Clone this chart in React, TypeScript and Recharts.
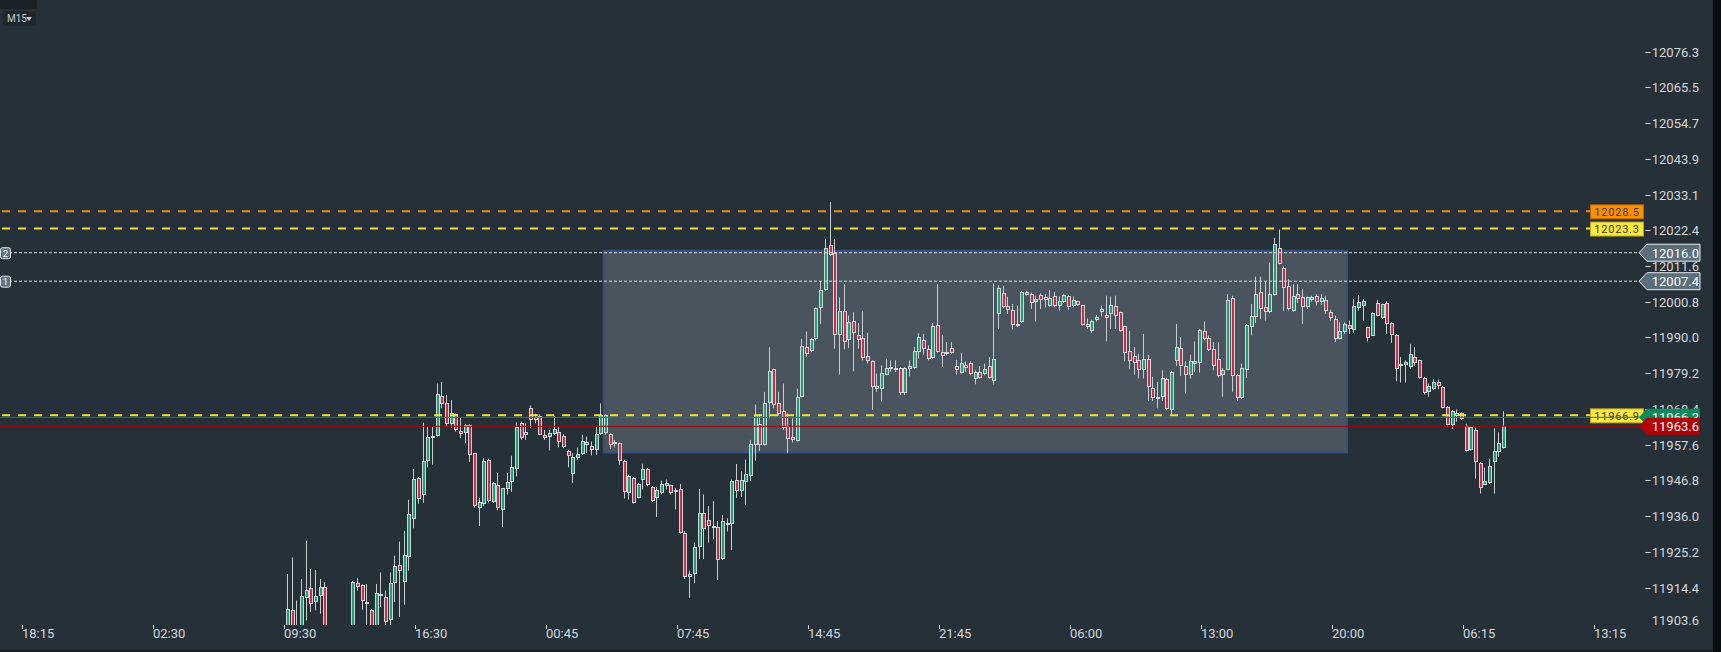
import React from 'react';
import { ComposedChart, Bar, XAxis, YAxis, ReferenceLine, ReferenceArea } from 'recharts';

// ---------- layout constants ----------
const WIDTH = 1721;
const HEIGHT = 652;
const SLOT_COUNT = 351;
const FIRST_SLOT = 61;

// ---------- axis data ----------
const tickSlots = [5, 33, 61, 89, 117, 145, 173, 201, 229, 257, 285, 313, 341];
const timeLabels = ['18:15', '02:30', '09:30', '16:30', '00:45', '07:45', '14:45', '21:45', '06:00', '13:00', '20:00', '06:15', '13:15'];
const priceTicks = [11903.6, 11914.4, 11925.2, 11936.0, 11946.8, 11957.6, 11968.4, 11979.2, 11990.0, 12000.8, 12011.6, 12022.4, 12033.1, 12043.9, 12054.7, 12065.5, 12076.3];
const priceDomain: [number, number] = [11903.6, 12092.3];

// ---------- levels ----------
const orangeLevel = 12028.5;
const yellowLevels = [12023.3, 11966.9];
const dottedLevels = [12016.0, 12007.4];
const dottedNames = ['2', '1'];
const askLevel = 11966.3;
const bidLevel = 11963.6;
const zoneSlots = [129, 287];
const zonePrices = [12016.7, 11955.6];

// ---------- candles [open, high, low, close] per M15 slot ----------
type C = [number, number, number, number] | null;
const s0930: C[] = [
  [11900, 11919, 11895, 11908.3], [11908, 11924, 11894, 11898], [11898, 11911, 11893, 11901], [11900, 11917.5, 11898, 11912.5],
  [11911.8, 11929, 11905, 11914.3], [11914.7, 11920.5, 11907.5, 11910], [11910.5, 11920.2, 11908, 11912.5], [11912.5, 11917.5, 11907, 11915],
  [11915.2, 11916.5, 11898, 11900], null, null, null, null, null,
  [11898, 11916.9, 11896, 11916.5], [11916.3, 11917.7, 11914, 11915.2], [11915.8, 11915.9, 11908.2, 11910.8], [11910.5, 11916, 11902, 11909.8],
  [11908, 11908.5, 11898, 11900], [11900, 11916, 11898, 11913.4], [11913.1, 11919.5, 11909, 11912.4], [11912.2, 11914, 11903, 11904.5],
  [11905, 11919.5, 11902, 11916.4], [11916.2, 11924.5, 11910.5, 11921.5], [11921.8, 11928.8, 11906, 11920], [11916.5, 11932, 11909.7, 11924.7],
  [11924, 11941.4, 11920, 11937], [11935.5, 11950.7, 11932.8, 11947.7],
];
const s1630: C[] = [
  [11948, 11948.3, 11940.2, 11941.5], [11943, 11964.7, 11940.5, 11953], [11953, 11963.5, 11951.2, 11960.5], [11960.8, 11963.5, 11952, 11960.1],
  [11960.7, 11976.5, 11960.5, 11973.2], [11972.8, 11977, 11969, 11970.2], [11970.7, 11973, 11963.5, 11964.2], [11964.2, 11971.5, 11963.2, 11967.5],
  [11967.4, 11967.4, 11962, 11962.5], [11962.3, 11966.2, 11960, 11961.3], [11961.6, 11964.2, 11958.5, 11964], [11964, 11964.2, 11952.8, 11955],
  [11955.4, 11955.4, 11939, 11939.5], [11939, 11942, 11933.5, 11940.7], [11940, 11954, 11939.5, 11953], [11953.3, 11953.8, 11940.5, 11941],
  [11940.8, 11946.8, 11940.5, 11946.5], [11946, 11949.5, 11938.2, 11938.8], [11938.3, 11945, 11933.2, 11945], [11944.8, 11949.5, 11943, 11946.8],
  [11946.8, 11954.7, 11943.8, 11951.2], [11950.8, 11964.8, 11948.5, 11963.5], [11964.7, 11965, 11959.5, 11960.2], [11961.8, 11964.5, 11959.5, 11961],
  [11969, 11969.9, 11963, 11965.5], [11966.4, 11967.4, 11964.5, 11965.6], [11966.8, 11967.2, 11961, 11961], [11960.9, 11962.5, 11959.5, 11960.2],
];
const s0045: C[] = [
  [11960.5, 11962.5, 11956.3, 11961.5], [11961.3, 11966.8, 11961, 11962.8], [11962, 11963.5, 11957.2, 11959], [11960.8, 11961.2, 11957, 11957.2],
  [11956.2, 11956.5, 11951.2, 11954.7], [11949.3, 11955.5, 11946.5, 11954.2], [11954, 11957.2, 11953.5, 11955.2], [11955.3, 11961, 11955, 11959.2],
  [11959, 11960.5, 11955.5, 11958], [11957.5, 11959, 11954.8, 11956.5], [11956.5, 11963.5, 11955, 11961.3], [11961.3, 11970.5, 11961, 11967],
  [11961.5, 11967.2, 11961, 11967], [11961.4, 11961.5, 11956.8, 11958], [11959, 11959.5, 11957.2, 11958.2], [11958.5, 11958.7, 11952, 11953],
  [11953.2, 11953.5, 11941.8, 11943.7], [11943.4, 11949, 11941.5, 11948.5], [11948, 11948.3, 11940.2, 11940.5], [11942, 11946.5, 11941.8, 11946.2],
  [11947.5, 11952.3, 11944.5, 11950.8], [11950.8, 11951, 11945.5, 11945.8], [11945.2, 11945.5, 11940.8, 11941], [11942, 11945.2, 11936.2, 11944.3],
  [11943.5, 11947.2, 11943, 11946.2], [11945.5, 11947.5, 11944.5, 11946.5], [11945.8, 11946, 11943, 11943.5], [11943.8, 11945, 11938.5, 11944.4],
];
const s0745: C[] = [
  [11944.7, 11946.2, 11931.2, 11931.5], [11931.5, 11932, 11917.5, 11918], [11919, 11920, 11911.8, 11918.2], [11919, 11928.5, 11916.2, 11927.2],
  [11927.2, 11944.7, 11923.5, 11937.5], [11937.5, 11943, 11923.5, 11932.5], [11935.2, 11939.5, 11928.5, 11933.5], [11932.8, 11941, 11929.5, 11933.5],
  [11933.3, 11935, 11917.2, 11923.2], [11923.5, 11936.8, 11923.2, 11935], [11934.5, 11935.8, 11931.8, 11933.7], [11934, 11947.5, 11926.2, 11947],
  [11947.3, 11952.2, 11942, 11944], [11944.2, 11950, 11942.2, 11947.5], [11946.7, 11953.5, 11939.8, 11949.2], [11948.5, 11959.5, 11947, 11958.2],
  [11958, 11970.2, 11953.2, 11967], [11964.3, 11967.2, 11956.2, 11958], [11958, 11974, 11957.8, 11970.7], [11970.5, 11987.5, 11966, 11980.3],
  [11980.8, 11981, 11969, 11970], [11970.5, 11974, 11966.8, 11967.2], [11968.3, 11976.5, 11962.5, 11963.2], [11963.8, 11967.5, 11955.5, 11959.8],
  [11960.3, 11966, 11958.7, 11959.5], [11959.2, 11975, 11959, 11972.5], [11972.5, 11990, 11972.3, 11987.8], [11987.5, 11992.2, 11984.5, 11985.3],
];
const s1445: C[] = [
  [11986.2, 11990.2, 11986, 11989.8], [11989.8, 11999.5, 11989.5, 11999.2], [11999.2, 12007.5, 11994.5, 12004.8], [12004.8, 12020.2, 12004.5, 12017.5],
  [12018.3, 12031.3, 12015, 12015.2], [12015.8, 12020.2, 11987, 11991.2], [11991.2, 12002.5, 11979.2, 11998.4], [11998.3, 12006.5, 11986.8, 11989],
  [11989.5, 11997, 11987.2, 11995], [11995.3, 11998, 11980.2, 11991.8], [11991.2, 11994.8, 11987, 11989.5], [11990.2, 11998.3, 11983.5, 11984.2],
  [11984.8, 11991.8, 11982.5, 11983.2], [11983.2, 11983.5, 11968.5, 11975.5], [11975, 11979.5, 11974, 11975.8], [11974.8, 11982, 11971, 11979.7],
  [11979.2, 11984, 11979, 11981.2], [11980.8, 11983.5, 11980, 11981.5], [11980.5, 11983.5, 11980, 11981.2], [11981.3, 11981.5, 11973, 11973.5],
  [11973.5, 11981.5, 11973, 11981.3], [11980.8, 11983.5, 11978.7, 11981.8], [11981.3, 11987.5, 11981, 11986.3], [11986, 11991.7, 11984, 11990.5],
  [11989.5, 11991.5, 11985.2, 11986.8], [11987, 11988, 11983.5, 11984], [11984.2, 11994.8, 11984, 11994], [11994.2, 12006.5, 11985.8, 11986],
];
const s2145: C[] = [
  [11986, 11991.2, 11981.5, 11984.8], [11986, 11989, 11985, 11985.3], [11987.2, 11989, 11985.5, 11985.8], [11981.8, 11983.7, 11979.2, 11980.5],
  [11979.8, 11985.8, 11979.5, 11982.8], [11982, 11983.2, 11980, 11981.2], [11982.7, 11983.2, 11979, 11979.5], [11978, 11980.5, 11976.3, 11980],
  [11980, 11981.8, 11978, 11978.2], [11979.5, 11982.5, 11979, 11980.8], [11981.8, 11984.5, 11978, 11978.3], [11977.2, 12006.7, 11976.2, 11984],
  [11997.5, 12006.2, 11993, 12005.2], [12003.8, 12006, 11999.2, 11999.5], [11999.8, 12002.7, 11997.5, 11998.8], [11998.7, 12000.5, 11992.8, 11994.3],
  [11993.8, 12000, 11993.5, 11994.5], [11995, 12004.5, 11994.8, 12004], [12003.3, 12004.5, 12003, 12004], [12003.5, 12004, 11999, 12000.7],
  [12001.2, 12003, 11995.2, 12002], [12003.3, 12003.7, 11999, 12001.8], [12002.5, 12003.5, 11999.5, 12001.8], [12000, 12004.7, 11999.7, 12002.3],
  [12002.8, 12004.2, 11999.5, 11999.8], [12000, 12002.8, 11998.5, 12001.4], [12001.2, 12003.5, 12000.8, 12003.2], [12003, 12003.2, 11998.8, 11999.5],
];
const s0600: C[] = [
  [11999.9, 12002.8, 11999.5, 12001.7], [12001.3, 12001.5, 12000, 12000.3], [12000.1, 12000.3, 11994, 11994.3], [11994.5, 11996.2, 11993, 11993.7],
  [11992.5, 11995.8, 11991.8, 11995.3], [11995.8, 11997.2, 11995.2, 11996.6], [11998, 12000, 11996.8, 11999], [11997.2, 12003, 11989.2, 11996.4],
  [11997.5, 12002.8, 11993, 12000.2], [12000, 12003, 11993, 11996.8], [11998, 11998.2, 11992.2, 11992.5], [11993.8, 11994, 11983.2, 11985.8],
  [11986.3, 11992.4, 11980.8, 11983.2], [11984.8, 11987.5, 11979.2, 11982.7], [11983.5, 11985.5, 11978, 11980.5], [11980.5, 11991.5, 11978, 11984],
  [11984, 11985.2, 11971.2, 11975.5], [11975.2, 11978.5, 11971.2, 11972], [11972.5, 11977, 11969, 11971.8], [11972.5, 11980.5, 11971.2, 11978.3],
  [11978, 11978.3, 11968.5, 11968.8], [11968.5, 11980.2, 11966.8, 11980], [11983.2, 11994.5, 11981.8, 11987.5], [11987.2, 11990.5, 11978.8, 11981.8],
  [11981.8, 11983.2, 11973.5, 11979], [11979.2, 11985.2, 11978, 11983.2], [11982.4, 11989.2, 11980, 11983.4], [11982.8, 11993, 11979.8, 11992.7],
];
const s1300: C[] = [
  [11992.3, 11995.2, 11989.5, 11990], [11990.2, 11991, 11986.3, 11986.7], [11987, 11989, 11980.5, 11981.8], [11983.8, 11989, 11978.3, 11978.8],
  [11979, 11981.2, 11972.5, 11980.7], [11980.7, 12003.5, 11980.5, 12001.7], [12002.3, 12003, 11974, 11978.8], [11979, 11979.3, 11971.2, 11972],
  [11972, 11982.5, 11971.8, 11981.2], [11980.5, 11994.5, 11978.2, 11994.2], [11993.5, 12000.5, 11991, 11996.8], [11996.5, 12008.8, 11994.8, 12003.5],
  [12004.2, 12008.8, 11996, 11999], [11999.5, 12007.2, 11995.5, 11998], [11998, 12013, 11997.7, 12003.5], [12003.2, 12020.5, 12003, 12018.5],
  [12017.4, 12023, 12012.5, 12012.7], [12011.5, 12011.8, 11998.5, 12005.2], [12006, 12008, 11998.5, 11999], [11998.3, 12006.5, 11998.2, 12003],
  [12003.5, 12006.5, 12000.8, 12002], [12002.5, 12005, 11994.5, 11999.5], [11999.5, 12002.8, 11999, 12002.5], [12001.8, 12003, 12001.2, 12002.7],
  [12003, 12003.5, 12000, 12001], [12001.2, 12003.5, 12000.2, 12002.3], [12001.8, 12003, 11997.5, 11998.3], [11998, 11998.8, 11995.5, 11996.2],
];
const s2000: C[] = [
  [11996, 11997, 11989, 11990], [11990, 11995, 11989.8, 11992.3], [11992.2, 11995, 11991.5, 11994.5], [11994.2, 11995.5, 11991.5, 11993],
  [11992.8, 12002, 11991.8, 12000], [11999.2, 12003.2, 11998.5, 12001], [12000, 12002, 11995.5, 12001.3], [11993.5, 11993.7, 11989.2, 11990.2],
  [11991, 11998, 11990.8, 11997.7], [12000.7, 12001.7, 11996.8, 11997], [11996.2, 12000.7, 11996, 12000.5], [12000.8, 12001.3, 11991.5, 11994.5],
  [11994.7, 11995, 11988.8, 11991.3], [11991.2, 11991.5, 11977.2, 11981], [11981.8, 11984.5, 11976.8, 11982.5], [11982, 11983.5, 11976.8, 11983],
  [11981.5, 11988.5, 11981, 11985.3], [11984.5, 11987.5, 11981.8, 11982.7], [11983.5, 11983.7, 11978, 11978.2], [11978.2, 11978.5, 11973.2, 11973.5],
  [11973.8, 11976.5, 11972.5, 11975.8], [11974.8, 11977.8, 11974.5, 11977], [11977, 11977.7, 11974.8, 11975.8], [11975.5, 11975.8, 11969, 11969.2],
  [11969.5, 11969.7, 11963.8, 11964], [11964, 11968.5, 11962.8, 11968.3], [11966.8, 11968.7, 11965, 11967.7], [11967.5, 11967.8, 11965.5, 11965.8],
];
const s0615: C[] = [
  [11963.8, 11964.4, 11956, 11956.1], [11956.5, 11963.5, 11956.3, 11963.3], [11962.6, 11963.2, 11947.8, 11952.8], [11952.6, 11952.8, 11943.3, 11945.1],
  [11946, 11951.1, 11945.8, 11947], [11946.5, 11953.8, 11946.2, 11951.5], [11952.8, 11963, 11943.3, 11956], [11955.8, 11961.8, 11954.3, 11958.6],
  [11957, 11968.1, 11956.8, 11963.6],
];

const candles: C[] = [...s0930, ...s1630, ...s0045, ...s0745, ...s1445, ...s2145, ...s0600, ...s1300, ...s2000, ...s0615];

const data = Array.from({ length: SLOT_COUNT }, (_, i) => {
  const k = i - FIRST_SLOT;
  const c = k >= 0 && k < candles.length ? candles[k] : null;
  return { slot: i, o: c ? c[0] : null, h: c ? c[1] : null, l: c ? c[2] : null, c: c ? c[3] : null };
});

// ---------- styles ----------
const BG = '#263039';
const UP = '#1f9f74';
const DOWN = '#cc2c44';
const EDGE = '#cfd5d9';
const WICK = '#c6ccd0';
const TXT = '#d3d8db';
const FONT = 'Roboto, "Noto Sans", sans-serif';

function Candle(props: any) {
  const { x, y, width, height, payload } = props;
  if (!payload || payload.o == null || !isFinite(y) || !isFinite(height)) return null;
  const top = Math.min(y, y + height);
  const bot = Math.max(y, y + height);
  const range = payload.h - payload.l;
  const toY = (v: number) => (range === 0 ? top : bot - ((v - payload.l) / range) * (bot - top));
  const c = Math.round(x + width / 2);
  const yo = toY(payload.o);
  const yc = toY(payload.c);
  const bTop = Math.round(Math.min(yo, yc));
  const bBot = Math.round(Math.max(yo, yc));
  const bh = Math.max(bBot - bTop, 1);
  const up = payload.c >= payload.o;
  return (
    <g>
      <line x1={c - 0.5} x2={c - 0.5} y1={top} y2={bot} stroke={WICK} strokeWidth={1} />
      <rect x={c - 2} y={bTop} width={4} height={bh + (bh > 1 ? 0 : 1)} fill={EDGE} />
      {bh > 2 && <rect x={c - 1} y={bTop + 1} width={2} height={bh - 2} fill={up ? UP : DOWN} />}
    </g>
  );
}

function TimeTick(props: any) {
  const { x, y, payload } = props;
  const idx = tickSlots.indexOf(payload.value);
  if (idx < 0) return null;
  const tx = Math.round(x) - 4;
  return (
    <g>
      <line x1={tx + 0.5} x2={tx + 0.5} y1={y} y2={y + 4} stroke={TXT} strokeWidth={1} />
      <text x={tx} y={y + 13} fontSize={13} fontFamily={FONT} fill={TXT} textAnchor="start">
        {timeLabels[idx]}
      </text>
    </g>
  );
}

function PriceTick(props: any) {
  const { x, y, payload } = props;
  const isBottom = payload.value === priceTicks[0];
  const label = payload.value.toFixed(1);
  return (
    <text x={x + 57} y={isBottom ? y - 5 : y - 1} dy="0.35em" fontSize={13} fontFamily={FONT} fill={TXT} textAnchor="end">
      {isBottom ? label : '\u2212' + label}
    </text>
  );
}

function BoxTag(props: any) {
  const { viewBox, text, fill, stroke } = props;
  if (!viewBox) return null;
  const right = viewBox.x + viewBox.width;
  const cy = viewBox.y;
  return (
    <g>
      <rect x={right - 51.5} y={cy - 6.5} width={53} height={14} fill={fill} stroke={stroke} strokeWidth={1} />
      <text x={right - 25} y={cy + 0.5} dy="0.35em" fontSize={11} letterSpacing={0.8} fontFamily={FONT} fill="#3b3b2e" textAnchor="middle">
        {text}
      </text>
    </g>
  );
}

function ArrowTag(props: any) {
  const { viewBox, text, fill, stroke, badge } = props;
  if (!viewBox) return null;
  const right = viewBox.x + viewBox.width;
  const cy = viewBox.y;
  const px = right - 3;
  const h = 8.5;
  const pts = `${px},${cy} ${px + 8},${cy - h} ${right + 58},${cy - h} ${right + 58},${cy + h} ${px + 8},${cy + h}`;
  return (
    <g>
      {badge && (
        <g>
          <rect x={0.5} y={cy - 5} width={10} height={11} rx={2} fill="#5f7481" stroke="#dfe5e9" strokeWidth={1} />
          <text x={5.5} y={cy + 0.8} dy="0.35em" fontSize={9.5} fontFamily={FONT} fill="#ffffff" textAnchor="middle">
            {badge}
          </text>
        </g>
      )}
      <polygon points={pts} fill={fill} stroke={stroke || 'none'} strokeWidth={stroke ? 1 : 0} />
      <text x={right + 57} y={cy + 0.5} dy="0.35em" fontSize={13} fontFamily={FONT} fill="#ffffff" textAnchor="end">
        {text}
      </text>
    </g>
  );
}

export default function App() {
  const lineZ: any = { zIndex: 2600 };
  return (
    <div style={{ position: 'fixed', left: 0, top: 0, width: WIDTH, height: HEIGHT, background: BG, overflow: 'hidden', fontFamily: FONT }}>
      <ComposedChart
        width={WIDTH}
        height={HEIGHT}
        data={data}
        margin={{ top: 0, right: 0, bottom: 0, left: 0 }}
        barCategoryGap={0}
        barGap={0}
      >
        <XAxis
          dataKey="slot"
          type="category"
          height={27}
          ticks={tickSlots}
          interval={0}
          tick={<TimeTick />}
          tickSize={0}
          tickMargin={0}
          axisLine={false}
          tickLine={false}
          {...({ zIndex: 500 } as any)}
        />
        <YAxis
          orientation="right"
          width={79}
          type="number"
          domain={priceDomain}
          allowDataOverflow
          ticks={priceTicks}
          interval={0}
          tick={<PriceTick />}
          tickSize={0}
          tickMargin={0}
          axisLine={false}
          tickLine={false}
          {...({ zIndex: 500 } as any)}
        />
        <ReferenceArea
          x1={zoneSlots[0]}
          x2={zoneSlots[1]}
          y1={zonePrices[0]}
          y2={zonePrices[1]}
          fill="#8797a3"
          fillOpacity={0.36}
          stroke="#3a4d82"
          strokeWidth={1.5}
          strokeOpacity={1}
          {...({ zIndex: 100 } as any)}
        />
        <Bar
          dataKey={(d: any) => (d.o == null ? null : [d.l, d.h])}
          shape={(p: any) => <Candle {...p} />}
          isAnimationActive={false}
        />
        <ReferenceLine
          y={orangeLevel}
          stroke="#f08a0c"
          strokeWidth={2}
          strokeDasharray="8 8"
          {...lineZ}
          label={(p: any) => <BoxTag viewBox={p.viewBox} text={orangeLevel.toFixed(1)} fill="#ff8f00" stroke="#b86500" />}
        />
        <ReferenceLine
          y={yellowLevels[0]}
          stroke="#f6e231"
          strokeWidth={2}
          strokeDasharray="8 8"
          {...lineZ}
          label={(p: any) => <BoxTag viewBox={p.viewBox} text={yellowLevels[0].toFixed(1)} fill="#ffe93a" stroke="#b8a22a" />}
        />
        <ReferenceLine
          y={dottedLevels[0]}
          stroke="#d9dee2"
          strokeWidth={1}
          strokeDasharray="3 2"
          {...lineZ}
          label={(p: any) => <ArrowTag viewBox={p.viewBox} text={dottedLevels[0].toFixed(1)} fill="#5b6f7b" stroke="#e6ebee" badge={dottedNames[0]} />}
        />
        <ReferenceLine
          y={dottedLevels[1]}
          stroke="#d9dee2"
          strokeWidth={1}
          strokeDasharray="3 2"
          {...lineZ}
          label={(p: any) => <ArrowTag viewBox={p.viewBox} text={dottedLevels[1].toFixed(1)} fill="#5b6f7b" stroke="#e6ebee" badge={dottedNames[1]} />}
        />
        <ReferenceLine
          y={yellowLevels[1]}
          stroke="#f6e231"
          strokeWidth={2}
          strokeDasharray="8 8"
          {...({ zIndex: 2601 } as any)}
          label={(p: any) => <BoxTag viewBox={p.viewBox} text={yellowLevels[1].toFixed(1)} fill="#ffe93a" stroke="#b8a22a" />}
        />
        <ReferenceLine
          y={askLevel}
          stroke="#0c8a5c"
          strokeWidth={1}
          {...({ zIndex: 2602 } as any)}
          label={(p: any) => <ArrowTag viewBox={p.viewBox} text={askLevel.toFixed(1)} fill="#0c8a5c" />}
        />
        <ReferenceLine
          y={bidLevel}
          stroke="#b00000"
          strokeWidth={1}
          {...({ zIndex: 2603 } as any)}
          label={(p: any) => <ArrowTag viewBox={p.viewBox} text={bidLevel.toFixed(1)} fill="#b30000" />}
        />
      </ComposedChart>
      <div style={{ position: 'absolute', left: 0, top: 0, width: 37, height: 9, background: '#1b2227' }} />
      <div
        style={{
          position: 'absolute', left: 3, top: 11, width: 33, height: 15, background: '#1e272d', borderRadius: 2,
          color: '#c9ced2', fontSize: 10, lineHeight: '15px', paddingLeft: 4, boxSizing: 'border-box', fontFamily: FONT,
        }}
      >
        M15
        <span style={{ position: 'absolute', left: 23, top: 6, width: 0, height: 0, borderLeft: '3.5px solid transparent', borderRight: '3.5px solid transparent', borderTop: '4px solid #c9ced2' }} />
      </div>
      <div style={{ position: 'absolute', left: 1713, top: 0, width: 8, height: HEIGHT, background: '#0b0e10' }} />
      <div style={{ position: 'absolute', left: 0, top: 650, width: 1713, height: 2, background: '#1a2025' }} />
    </div>
  );
}
